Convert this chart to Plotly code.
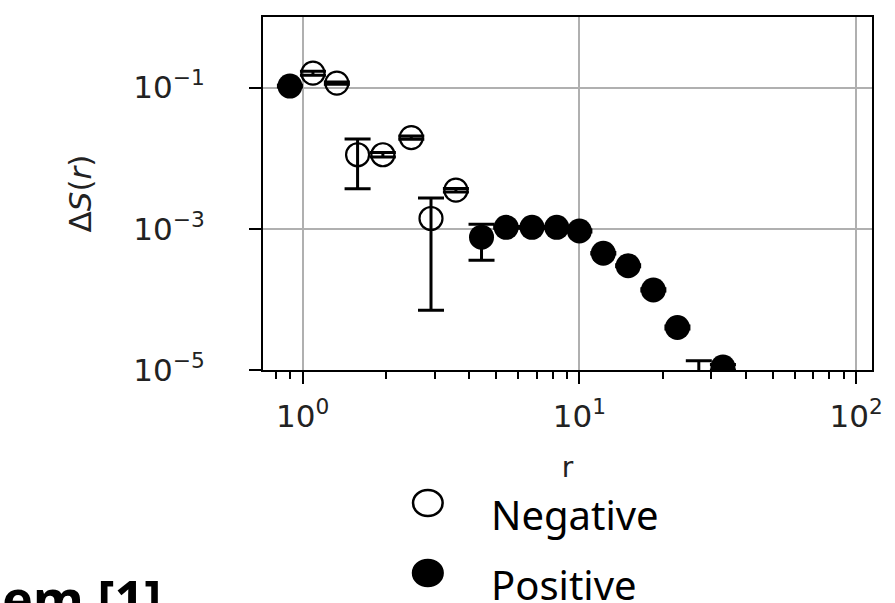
import plotly.graph_objects as go

# ---------------- data ----------------
r_neg = [1.09, 1.33, 1.58, 1.95, 2.47, 2.91, 3.58, 27.0]
s_neg = [0.16, 0.116, 0.0112, 0.0112, 0.0196, 0.0014, 0.00353, 6e-6]
e_neg = [0.01, 0.004, 0.0075, 0.0008, 0.001, 0.00133, 0.0002, 7.5e-6]

r_pos = [0.9, 4.43, 5.44, 6.74, 8.28, 10.0, 12.2, 15.0, 18.5, 22.6, 33.0]
s_pos = [0.105, 7.6e-4, 1.05e-3, 1.05e-3, 1.05e-3, 9.3e-4, 4.5e-4, 3.0e-4, 1.36e-4, 4.0e-5, 1.1e-5]
e_pos = [0.003, 4.0e-4, 3e-5, 3e-5, 3e-5, 3e-5, 1e-5, 1e-5, 5e-6, 2e-6, 1e-6]

x_tickvals = [1, 10, 100]
x_ticktext = ["10<sup>0</sup>", "10<sup>1</sup>", "10<sup>2</sup>"]
y_tickvals = [1e-5, 1e-3, 1e-1]
y_ticktext = ["10<sup>\u22125</sup>", "10<sup>\u22123</sup>", "10<sup>\u22121</sup>"]

legend_labels = ["Negative", "Positive"]
source_text = "em [1]"

# ---------------- layout geometry ----------------
W, H = 895, 603
L, R, T, B = 263, 880, 17, 370


def px(xp):
    return (xp - L) / (R - L)


def py(yp):
    return (B - yp) / (B - T)


fig = go.Figure()

fig.add_trace(go.Scatter(
    x=r_neg, y=s_neg, mode="markers", name=legend_labels[0],
    marker=dict(symbol="circle-open", size=23, color="black", line=dict(width=2.2)),
    error_y=dict(type="data", array=e_neg, visible=True, color="black", thickness=3, width=13),
    showlegend=False,
))
fig.add_trace(go.Scatter(
    x=r_pos, y=s_pos, mode="markers", name=legend_labels[1],
    marker=dict(symbol="circle", size=25, color="black", line=dict(width=0)),
    error_y=dict(type="data", array=e_pos, visible=True, color="black", thickness=3, width=13),
    showlegend=False,
))

axis_font = dict(family="DejaVu Sans", size=31, color="#222")

fig.update_xaxes(
    type="log", range=[-0.143, 2.057],
    tickmode="array", tickvals=x_tickvals, ticktext=x_ticktext,
    ticks="outside", ticklen=12, tickwidth=2, tickcolor="black",
    showgrid=True, gridcolor="#b0b0b0", gridwidth=1.5,
    showline=True, linecolor="black", linewidth=2, mirror=True,
    zeroline=False, tickfont=axis_font, ticklabelstandoff=6,
    minor=dict(ticks="outside", ticklen=7, tickwidth=1.5, tickcolor="black",
               dtick="D1", showgrid=False),
    title=dict(text="r", font=dict(family="DejaVu Sans", size=28, color="#222"), standoff=24),
)
fig.update_yaxes(
    type="log", range=[-5, 0],
    tickmode="array", tickvals=y_tickvals, ticktext=y_ticktext,
    ticks="outside", ticklen=12, tickwidth=2, tickcolor="black",
    showgrid=True, gridcolor="#b0b0b0", gridwidth=1.5,
    showline=True, linecolor="black", linewidth=2, mirror=True,
    zeroline=False, tickfont=axis_font, ticklabelstandoff=38,
    title=dict(text="\u0394<i>S</i>(<i>r</i>)", font=dict(family="DejaVu Sans", size=31, color="#222"),
               standoff=33),
)

# legend drawn manually
shapes = []
for i, (cy, filled) in enumerate([(503, False), (573, True)]):
    shapes.append(dict(
        type="circle", xref="paper", yref="paper",
        x0=px(430 - 15), x1=px(430 + 15), y0=py(cy + 13), y1=py(cy - 13),
        line=dict(color="black", width=2.5),
        fillcolor="black" if filled else "white",
    ))

annotations = []
for lab, cy in zip(legend_labels, [514, 584]):
    annotations.append(dict(
        text=lab, xref="paper", yref="paper", x=px(492), y=py(cy),
        xanchor="left", yanchor="middle", showarrow=False,
        font=dict(family="Noto Sans", size=40, color="black"),
    ))
annotations.append(dict(
    text="<b>" + source_text + "</b>", xref="paper", yref="paper",
    x=px(-3), y=py(560), xanchor="left", yanchor="top", showarrow=False,
    font=dict(family="Noto Sans", size=52, color="black"),
))

fig.update_layout(
    width=W, height=H,
    margin=dict(l=L, r=W - R, t=T, b=H - B),
    paper_bgcolor="white", plot_bgcolor="white",
    shapes=shapes, annotations=annotations,
    showlegend=False,
)

fig.write_html("out.html", config={"displayModeBar": False},
               post_script="document.body.style.margin='0';")
